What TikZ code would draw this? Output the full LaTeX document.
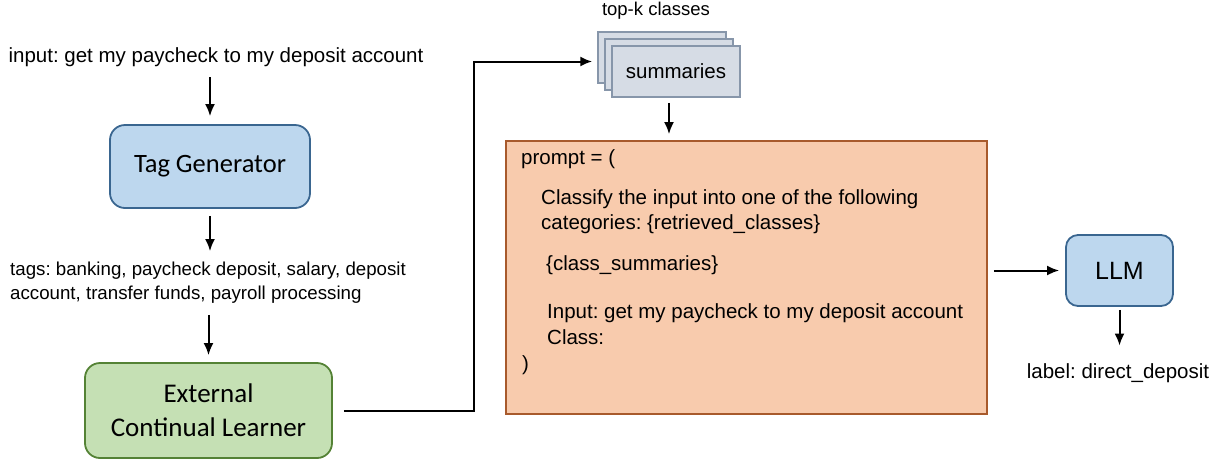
\documentclass[tikz,border=0pt]{standalone}
\usepackage{fontspec}
\setmainfont{Liberation Sans}
\newfontfamily\calfont{Carlito}
\usetikzlibrary{arrows.meta,calc}
\definecolor{bluefill}{HTML}{BDD7EE}
\definecolor{blueline}{HTML}{3A6690}
\definecolor{greenfill}{HTML}{C5E0B4}
\definecolor{greenline}{HTML}{548235}
\definecolor{stackfill}{HTML}{D6DCE5}
\definecolor{stackline}{HTML}{8796AA}
\definecolor{promptfill}{HTML}{F8CBAD}
\definecolor{promptline}{HTML}{A85A2C}
\begin{document}
\frenchspacing
\begin{tikzpicture}[x=1pt,y=-1pt,
  arr/.style={line width=2pt, -{Latex[length=12pt,width=10pt]}},
  txt/.style={inner sep=0pt, font=\fontsize{20.5}{24}\selectfont},
  rbox/.style={draw, line width=1.8pt, rounded corners=15pt, inner sep=0pt},
  sbox/.style={draw=stackline, fill=stackfill, line width=1.5pt, minimum width=128pt, minimum height=51pt, inner sep=0pt},
  ptxt/.style={txt, anchor=mid west}]
\useasboundingbox (0,0) rectangle (1220,459);

% left column
\node[txt, anchor=mid] (input) at (216,60) {input: get my paycheck to my deposit account};
\node[rbox, fill=bluefill, draw=blueline, minimum width=200pt, minimum height=83pt,
      font=\fontsize{26.5}{30}\calfont] (tag) at (210,166.5) {Tag Generator};
\node[txt, anchor=west, align=left, font=\fontsize{18.7}{24}\selectfont] (tags) at (10,283)
  {tags: banking, paycheck deposit, salary, deposit\\account, transfer funds, payroll processing};
\node[rbox, fill=greenfill, draw=greenline, minimum width=247pt, minimum height=95pt,
      align=center, font=\fontsize{27}{34}\calfont] (ecl) at (208.5,410.5) {External\\Continual Learner};

% stack of summaries
\node[txt, anchor=mid, font=\fontsize{18.5}{22}\selectfont] (topk) at (656,13) {top-k classes};
\node[sbox] (back) at (662,57.5) {};
\node[sbox] (middle) at (669,64.5) {};
\node[sbox, font=\fontsize{20.5}{24}\selectfont] (front) at (676,71.5) {summaries};

% prompt box
\node[draw=promptline, fill=promptfill, line width=1.8pt, minimum width=481pt,
      minimum height=273pt, inner sep=0pt] (prompt) at (746.5,277.5) {};
\node[ptxt] (p1) at (521,162) {prompt = (};
\node[ptxt] (p2) at (541,202) {Classify the input into one of the following};
\node[ptxt] (p3) at (541,227) {categories: \{retrieved\_classes\}};
\node[ptxt] (p4) at (546,268) {\{class\_summaries\}};
\node[ptxt] (p5) at (547,316) {Input: get my paycheck to my deposit account};
\node[ptxt] (p6) at (547,342) {Class:};
\node[ptxt] (p7) at (522,368) {)};

% LLM
\node[rbox, rounded corners=12pt, fill=bluefill, draw=blueline, minimum width=107pt,
      minimum height=71pt, font=\fontsize{25}{30}\selectfont] (llm) at (1119.5,270.5) {LLM};
\node[txt, anchor=mid] (label) at (1118,376) {label: direct\_deposit};

% connectors
\draw[arr, shorten <=10pt, shorten >=8pt] (input.south -| tag.north) -- (tag.north);
\draw[arr, shorten <=7pt, shorten >=11pt] (tag.south) -- (tag.south |- tags.north);
\draw[arr, shorten <=11pt, shorten >=7pt] (tags.south -| ecl.north) -- (ecl.north);
\draw[arr, shorten <=11pt, shorten >=5pt] (ecl.east) -- ++(141,0) |- ([yshift=-4pt]back.west);
\draw[arr, shorten <=5pt, shorten >=6pt] (front.south -| middle.center) -- (prompt.north -| middle.center);
\draw[arr, shorten <=6pt, shorten >=6pt] (prompt.east |- llm.west) -- (llm.west);
\draw[arr, shorten <=3pt, shorten >=18pt] (llm.south) -- (llm.south |- label.north);
\end{tikzpicture}
\end{document}
